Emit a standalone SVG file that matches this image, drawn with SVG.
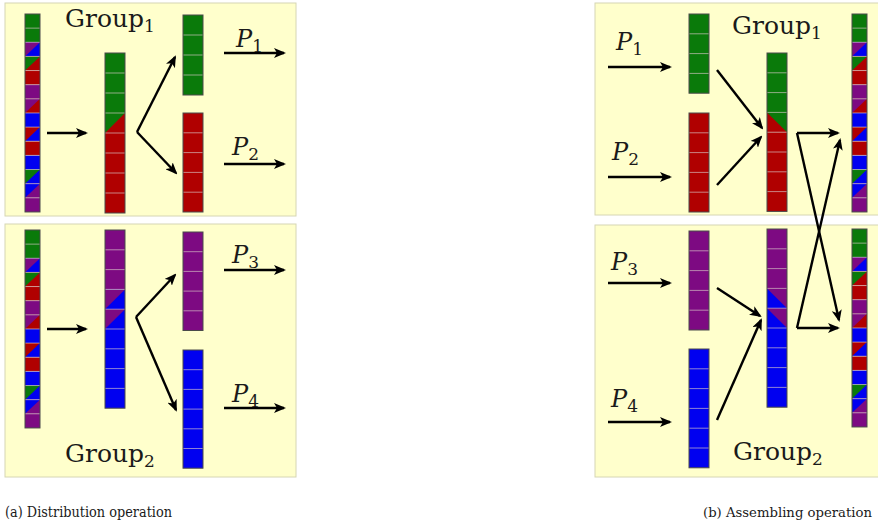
<svg xmlns="http://www.w3.org/2000/svg" xmlns:xlink="http://www.w3.org/1999/xlink" width="878" height="529" viewBox="0 0 878 529">
<style>
.bg{fill:#ffffcc;stroke:#d6d6b4;stroke-width:1}
.g{fill:#0a7a0a}.r{fill:#b00000}.b{fill:#0000f0}.p{fill:#7d0a82}
.sep{fill:none;stroke:#d8c8c8;stroke-width:1;stroke-opacity:0.65}
.out{fill:none;stroke:#4a4a4a;stroke-width:1}
.arr{fill:none;stroke:#000;stroke-width:2.4;marker-end:url(#ah)}
text{font-family:'DejaVu Serif','Liberation Serif',serif;fill:#1a1a1a}
.lbl{font-size:25px}
.pl{font-style:italic;font-size:24px}
.sub{font-style:normal;font-size:17px}
.cap{font-size:15px}
.capb{font-size:13.6px}
</style>
<defs>
<marker id="ah" viewBox="0 0 12 10" refX="10" refY="5" markerWidth="12" markerHeight="10" markerUnits="userSpaceOnUse" orient="auto">
<path d="M0,0 L12,5 L0,10 L3,5 Z" fill="#000"/>
</marker>
<g id="mix">
<rect y="0" width="15" height="28.28" class="g"/>
<rect y="28.28" width="15" height="14.14" class="b"/><polygon points="0,28.28 15,28.28 0,42.42" class="p"/>
<rect y="42.42" width="15" height="14.14" class="r"/><polygon points="0,42.42 15,42.42 0,56.56" class="g"/>
<rect y="56.56" width="15" height="14.14" class="r"/>
<rect y="70.7" width="15" height="14.14" class="p"/>
<rect y="84.84" width="15" height="14.14" class="r"/><polygon points="0,84.84 15,84.84 0,98.98" class="p"/>
<rect y="98.98" width="15" height="14.14" class="b"/>
<rect y="113.12" width="15" height="14.14" class="b"/><polygon points="0,113.12 15,113.12 0,127.26" class="r"/>
<rect y="127.26" width="15" height="14.14" class="r"/>
<rect y="141.4" width="15" height="14.14" class="b"/>
<rect y="155.54" width="15" height="14.14" class="b"/><polygon points="0,155.54 15,155.54 0,169.68" class="g"/>
<rect y="169.68" width="15" height="14.14" class="p"/><polygon points="0,169.68 15,169.68 0,183.82" class="b"/>
<rect y="183.82" width="15" height="14.14" class="p"/>
<path class="sep" d="M0,14.14h15M0,28.28h15M0,42.42h15M0,56.56h15M0,70.7h15M0,84.84h15M0,98.98h15M0,113.12h15M0,127.26h15M0,141.4h15M0,155.54h15M0,169.68h15M0,183.82h15"/>
<rect width="15" height="197.96" class="out"/>
</g>
</defs>

<g id="panels">
<rect x="5" y="3" width="291" height="213" class="bg"/>
<rect x="5" y="224" width="291" height="253" class="bg"/>
<rect x="595" y="3" width="290" height="212" class="bg"/>
<rect x="595" y="225" width="290" height="252" class="bg"/>
</g>

<g id="a-mix1"><use xlink:href="#mix" href="#mix" transform="translate(25,14)"/></g>
<g id="a-mid1">
<rect x="105" y="53" width="20" height="60" class="g"/>
<rect x="105" y="113" width="20" height="100" class="r"/>
<polygon points="105,113 125,113 105,133" class="g"/>
<path class="sep" d="M105,73h20M105,93h20M105,113h20M105,133h20M105,153h20M105,173h20M105,193h20"/>
<rect x="105" y="53" width="20" height="160" class="out"/>
</g>
<g id="a-p1">
<rect x="183" y="15" width="20" height="80" class="g"/>
<path class="sep" d="M183,35h20M183,55h20M183,75h20"/>
<rect x="183" y="15" width="20" height="80" class="out"/>
</g>
<g id="a-p2">
<rect x="183" y="113" width="20" height="99" class="r"/>
<path class="sep" d="M183,132.8h20M183,152.6h20M183,172.4h20M183,192.2h20"/>
<rect x="183" y="113" width="20" height="99" class="out"/>
</g>

<g id="a-mix2"><use xlink:href="#mix" href="#mix" transform="translate(25,230)"/></g>
<g id="a-mid2">
<rect x="105" y="230" width="20" height="59.4" class="p"/>
<rect x="105" y="289.4" width="20" height="118.8" class="b"/>
<polygon points="105,289.4 125,289.4 105,309.2" class="p"/>
<polygon points="105,309.2 125,309.2 105,329" class="p"/>
<path class="sep" d="M105,249.8h20M105,269.6h20M105,289.4h20M105,309.2h20M105,329h20M105,348.8h20M105,368.6h20M105,388.4h20"/>
<rect x="105" y="230" width="20" height="178.2" class="out"/>
</g>
<g id="a-p3">
<rect x="183" y="232" width="20" height="98.5" class="p"/>
<path class="sep" d="M183,251.7h20M183,271.4h20M183,291.1h20M183,310.8h20"/>
<rect x="183" y="232" width="20" height="98.5" class="out"/>
</g>
<g id="a-p4">
<rect x="183" y="350" width="20" height="118.2" class="b"/>
<path class="sep" d="M183,369.7h20M183,389.4h20M183,409.1h20M183,428.8h20M183,448.5h20"/>
<rect x="183" y="350" width="20" height="118.2" class="out"/>
</g>

<g id="b-p1">
<rect x="689" y="14" width="20" height="79.2" class="g"/>
<path class="sep" d="M689,33.8h20M689,53.6h20M689,73.4h20"/>
<rect x="689" y="14" width="20" height="79.2" class="out"/>
</g>
<g id="b-p2">
<rect x="689" y="113" width="20" height="99" class="r"/>
<path class="sep" d="M689,132.8h20M689,152.6h20M689,172.4h20M689,192.2h20"/>
<rect x="689" y="113" width="20" height="99" class="out"/>
</g>
<g id="b-mid1">
<rect x="767" y="53" width="20" height="79.2" class="g"/>
<rect x="767" y="132.2" width="20" height="79.2" class="r"/>
<polygon points="767,112.4 767,132.2 787,132.2" class="r"/>
<path class="sep" d="M767,72.8h20M767,92.6h20M767,112.4h20M767,132.2h20M767,152h20M767,171.8h20M767,191.6h20"/>
<rect x="767" y="53" width="20" height="158.4" class="out"/>
</g>
<g id="b-mix1"><use xlink:href="#mix" href="#mix" transform="translate(852,14)"/></g>

<g id="b-p3">
<rect x="689" y="231" width="20" height="99" class="p"/>
<path class="sep" d="M689,250.8h20M689,270.6h20M689,290.4h20M689,310.2h20"/>
<rect x="689" y="231" width="20" height="99" class="out"/>
</g>
<g id="b-p4">
<rect x="689" y="349" width="20" height="118.8" class="b"/>
<path class="sep" d="M689,368.8h20M689,388.6h20M689,408.4h20M689,428.2h20M689,448h20"/>
<rect x="689" y="349" width="20" height="118.8" class="out"/>
</g>
<g id="b-mid2">
<rect x="767" y="229" width="20" height="99" class="p"/>
<rect x="767" y="328" width="20" height="79.2" class="b"/>
<polygon points="767,288.4 767,308.2 787,308.2" class="b"/>
<polygon points="767,308.2 767,328 787,328" class="b"/>
<path class="sep" d="M767,248.8h20M767,268.6h20M767,288.4h20M767,308.2h20M767,328h20M767,347.8h20M767,367.6h20M767,387.4h20"/>
<rect x="767" y="229" width="20" height="178.2" class="out"/>
</g>
<g id="b-mix2"><use xlink:href="#mix" href="#mix" transform="translate(852,229)"/></g>

<g id="connectors">
<path class="arr" d="M47,133H86"/>
<path class="arr" d="M137,132L175,57"/>
<path class="arr" d="M137,132L176,173"/>
<path class="arr" d="M224,53H284"/>
<path class="arr" d="M224,164H284"/>
<path class="arr" d="M47,329H86"/>
<path class="arr" d="M136,317L175,275"/>
<path class="arr" d="M136,317L176,410"/>
<path class="arr" d="M224,270H284"/>
<path class="arr" d="M224,408H284"/>
<path class="arr" d="M608,67H670"/>
<path class="arr" d="M608,177H670"/>
<path class="arr" d="M717,70L762,128"/>
<path class="arr" d="M717,185L761,137"/>
<path class="arr" d="M608,283H670"/>
<path class="arr" d="M608,422H670"/>
<path class="arr" d="M717,288L760,316"/>
<path class="arr" d="M717,420L761,320"/>
<path class="arr" d="M797,133H838"/>
<path class="arr" d="M797,133L839,320"/>
<path class="arr" d="M797,328H838"/>
<path class="arr" d="M797,328L840,140"/>
</g>

<g id="labels">
<text class="lbl" x="65" y="27">Group<tspan class="sub" dy="5">1</tspan></text>
<text class="lbl" x="65" y="462">Group<tspan class="sub" dy="5">2</tspan></text>
<text class="lbl" x="732" y="34">Group<tspan class="sub" dy="5">1</tspan></text>
<text class="lbl" x="733" y="460">Group<tspan class="sub" dy="5">2</tspan></text>
<text class="pl" x="236" y="47">P<tspan class="sub" dy="5">1</tspan></text>
<text class="pl" x="232" y="155">P<tspan class="sub" dy="5">2</tspan></text>
<text class="pl" x="232" y="263">P<tspan class="sub" dy="5">3</tspan></text>
<text class="pl" x="232" y="402">P<tspan class="sub" dy="5">4</tspan></text>
<text class="pl" x="616" y="50">P<tspan class="sub" dy="5">1</tspan></text>
<text class="pl" x="612" y="160">P<tspan class="sub" dy="5">2</tspan></text>
<text class="pl" x="611" y="270">P<tspan class="sub" dy="5">3</tspan></text>
<text class="pl" x="611" y="407">P<tspan class="sub" dy="5">4</tspan></text>
<text class="cap" x="5" y="517" textLength="167" lengthAdjust="spacingAndGlyphs">(a) Distribution operation</text>
<text class="capb" x="703" y="517" textLength="169" lengthAdjust="spacingAndGlyphs">(b) Assembling operation</text>
</g>
</svg>
